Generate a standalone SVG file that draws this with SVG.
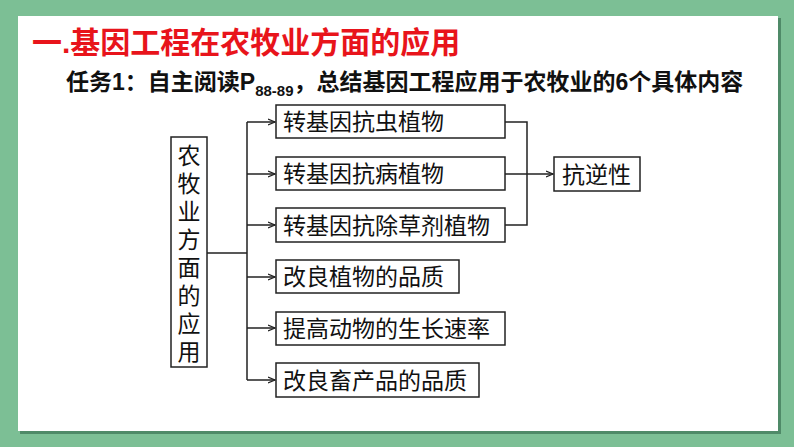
<svg xmlns="http://www.w3.org/2000/svg" width="794" height="447" viewBox="0 0 794 447">
<style>
.b{fill:#fff;stroke:#222;stroke-width:1.5}
.t{font-family:"Liberation Sans","Noto Sans CJK SC",sans-serif;font-size:23px;fill:#111}
.c{fill:none;stroke:#222;stroke-width:1.5}
</style>
<defs><marker id="a" markerWidth="8" markerHeight="8" refX="7" refY="4" orient="auto" markerUnits="userSpaceOnUse"><path d="M0,1 L7,4 L0,7" fill="none" stroke="#222" stroke-width="1.2"/></marker></defs>
<rect width="794" height="447" fill="#7cbf95"/>
<rect x="20" y="18" width="761" height="416" fill="#4f8a68"/>
<rect x="18" y="16" width="760" height="415" fill="#fff"/>
<text x="32" y="53" font-family="Liberation Sans,Noto Sans CJK SC,sans-serif" font-size="30" font-weight="bold" fill="#e8141b">一.基因工程在农牧业方面的应用</text>
<text x="66" y="90" font-family="Liberation Sans,Noto Sans CJK SC,sans-serif" font-size="23" font-weight="bold" fill="#111">任务1：自主阅读P<tspan font-size="15" dy="6">88-89</tspan><tspan dy="-6">，总结基因工程应用于农牧业的6个具体内容</tspan></text>
<g id="connectors">
<path class="c" d="M207,253 H247 M247,122 V380"/>
<path class="c" marker-end="url(#a)" d="M247,122 H275"/>
<path class="c" marker-end="url(#a)" d="M247,174 H275"/>
<path class="c" marker-end="url(#a)" d="M247,225 H275"/>
<path class="c" marker-end="url(#a)" d="M247,277 H275"/>
<path class="c" marker-end="url(#a)" d="M247,328 H275"/>
<path class="c" marker-end="url(#a)" d="M247,380 H275"/>
<path class="c" d="M505,122 H527 V225 H505 M505,174 H527"/>
<path class="c" marker-end="url(#a)" d="M527,174 H553"/>
</g>
<g id="root"><rect class="b" x="171" y="137" width="36" height="230"/>
<text class="t" x="189" font-size="23" text-anchor="middle"><tspan x="189" y="164">农</tspan><tspan x="189" y="192">牧</tspan><tspan x="189" y="220">业</tspan><tspan x="189" y="248">方</tspan><tspan x="189" y="276">面</tspan><tspan x="189" y="304">的</tspan><tspan x="189" y="332">应</tspan><tspan x="189" y="360">用</tspan></text></g>
<g id="n1"><rect class="b" x="276" y="105" width="229" height="33"/><text class="t" x="283" y="130">转基因抗虫植物</text></g>
<g id="n2"><rect class="b" x="276" y="157" width="229" height="33"/><text class="t" x="283" y="182">转基因抗病植物</text></g>
<g id="n3"><rect class="b" x="276" y="208" width="229" height="34"/><text class="t" x="283" y="234">转基因抗除草剂植物</text></g>
<g id="n4"><rect class="b" x="276" y="260" width="183" height="33"/><text class="t" x="283" y="285">改良植物的品质</text></g>
<g id="n5"><rect class="b" x="276" y="312" width="229" height="33"/><text class="t" x="283" y="337">提高动物的生长速率</text></g>
<g id="n6"><rect class="b" x="276" y="363" width="203" height="34"/><text class="t" x="283" y="389">改良畜产品的品质</text></g>
<g id="n7"><rect class="b" x="554" y="157" width="86" height="34"/><text class="t" x="562" y="183">抗逆性</text></g>
</svg>
